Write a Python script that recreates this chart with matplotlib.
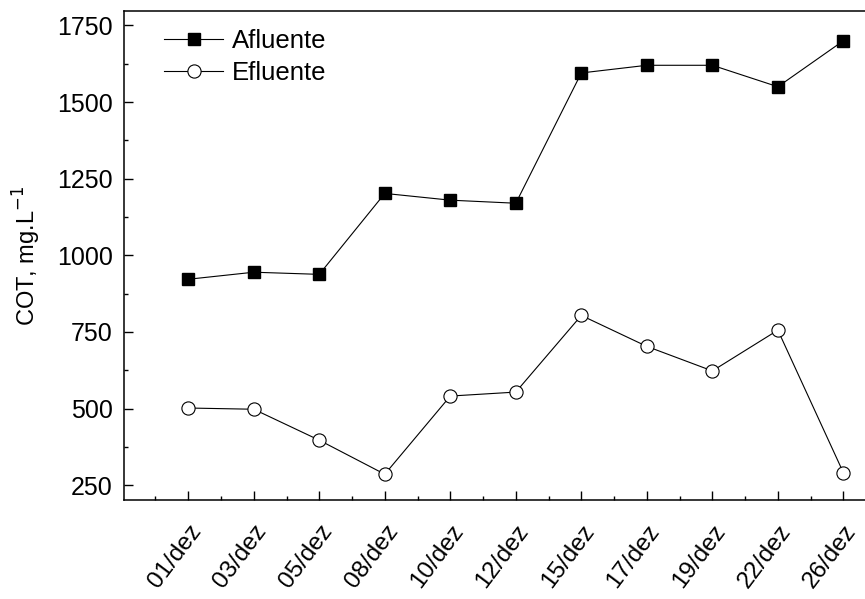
import matplotlib
matplotlib.use("Agg")
import matplotlib.pyplot as plt
from matplotlib.ticker import MultipleLocator, FixedLocator

plt.rcParams['font.family'] = ['Liberation Sans', 'DejaVu Sans']

# Sampling dates and total organic carbon (COT) values
dates = ["01/dez", "03/dez", "05/dez", "08/dez", "10/dez", "12/dez",
         "15/dez", "17/dez", "19/dez", "22/dez", "26/dez"]
afluente = [922, 945, 938, 1202, 1180, 1170, 1595, 1620, 1620, 1550, 1700]
efluente = [502, 498, 397, 286, 541, 554, 804, 703, 623, 756, 291]
y_ticks = [250, 500, 750, 1000, 1250, 1500, 1750]

fig = plt.figure(figsize=(8.65, 5.99), dpi=100)
ax = fig.add_axes([0.1434, 0.1653, 0.8566, 0.8163])

x = list(range(len(dates)))
ax.plot(x, afluente, color='black', lw=0.8, marker='s', ms=9,
        mfc='black', mec='black', label='Afluente')
ax.plot(x, efluente, color='black', lw=0.8, marker='o', ms=9.5,
        mfc='white', mec='black', mew=0.8, label='Efluente')

ax.set_xlim(-0.98, 10.33)
ax.set_ylim(202, 1797)

ax.set_xticks(x)
ax.set_xticklabels(dates, rotation=53, ha='right', va='top',
                   rotation_mode='anchor', fontsize=17.5)
ax.xaxis.set_minor_locator(FixedLocator([i + 0.5 for i in range(-1, 11)]))
ax.set_yticks(y_ticks)
ax.yaxis.set_minor_locator(MultipleLocator(125))
ax.tick_params(axis='y', labelsize=18, pad=8)

ax.tick_params(which='major', direction='in', length=6.5, width=1.0,
               top=False, right=False)
ax.tick_params(which='minor', direction='in', length=3.2, width=1.0,
               top=False, right=False)
ax.tick_params(axis='x', which='major', pad=15)

for side in ('left', 'bottom', 'top'):
    ax.spines[side].set_linewidth(1.1)
ax.spines['right'].set_visible(False)

ax.set_ylabel("COT, mg.L$^{-1}$", fontsize=17, labelpad=10)

leg = ax.legend(loc='upper left', bbox_to_anchor=(0.03, 1.0), frameon=False,
                fontsize=18.5, handlelength=2.3, handletextpad=0.35,
                labelspacing=0.3, borderaxespad=0.3)

fig.savefig("out.png", dpi=100)
